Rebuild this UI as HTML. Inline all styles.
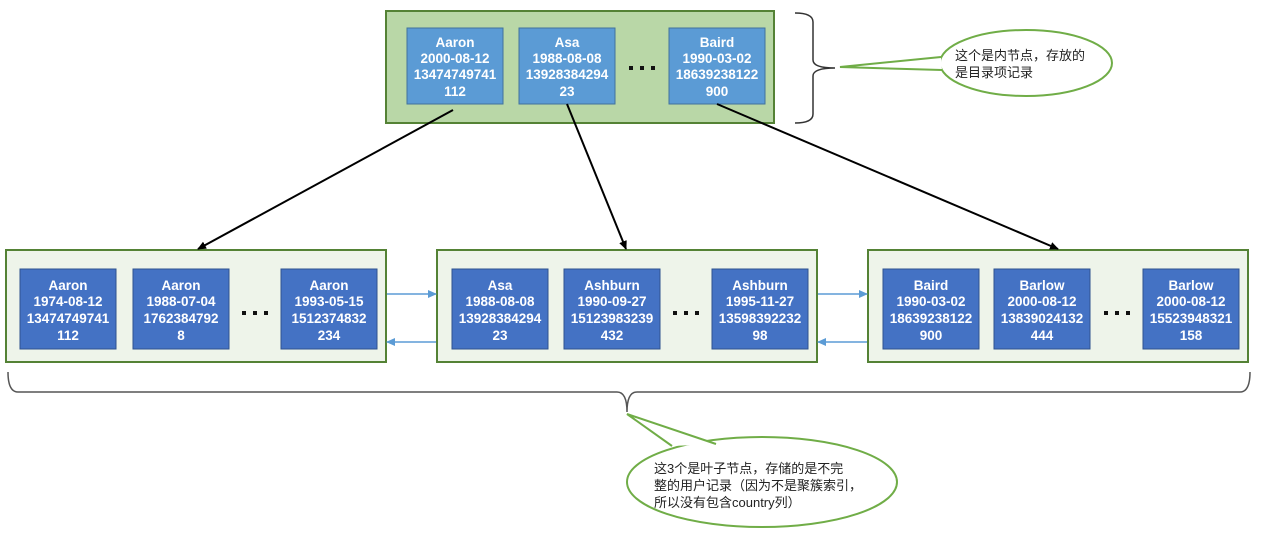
<!DOCTYPE html>
<html><head><meta charset="utf-8"><style>
html,body{margin:0;padding:0;background:#fff;width:1261px;height:539px;overflow:hidden}
svg{display:block}
.t{font-family:"Liberation Sans","Noto Sans CJK SC",sans-serif;font-size:13.5px;font-weight:bold;fill:#fff;text-anchor:middle}
.c{font-family:"Liberation Sans","Noto Sans CJK SC",sans-serif;font-size:13px;fill:#222}
</style></head><body>
<svg width="1261" height="539" viewBox="0 0 1261 539" xmlns="http://www.w3.org/2000/svg">
<defs>
<marker id="ab" markerWidth="10" markerHeight="10" refX="8" refY="4" orient="auto" markerUnits="userSpaceOnUse"><path d="M0,0 L9,4 L0,8 Z" fill="#000"/></marker>
<marker id="ae" markerWidth="10" markerHeight="10" refX="8" refY="4" orient="auto" markerUnits="userSpaceOnUse"><path d="M0,0 L9,4 L0,8 Z" fill="#5b9bd5"/></marker>
</defs>
<rect x="386" y="11" width="388" height="112" fill="#b9d7a7" stroke="#548235" stroke-width="2"/>
<g fill="#5b9bd5" stroke="#41719c" stroke-width="1">
<rect x="407" y="28" width="96" height="76"/><rect x="519" y="28" width="96" height="76"/><rect x="669" y="28" width="96" height="76"/>
</g>
<g class="t">
<text x="455" y="47">Aaron</text><text x="455" y="63">2000-08-12</text><text x="455" y="79">13474749741</text><text x="455" y="96">112</text>
<text x="567" y="47">Asa</text><text x="567" y="63">1988-08-08</text><text x="567" y="79">13928384294</text><text x="567" y="96">23</text>
<text x="717" y="47">Baird</text><text x="717" y="63">1990-03-02</text><text x="717" y="79">18639238122</text><text x="717" y="96">900</text>
</g>
<path d="M795,13 Q813,13 813,22 L813,60 Q813,68 835,68 Q813,68 813,76 L813,114 Q813,123 795,123" fill="none" stroke="#333" stroke-width="1.5"/>
<ellipse cx="1026" cy="63" rx="86" ry="33" fill="#fff" stroke="#70ad47" stroke-width="2"/>
<path d="M941,57 L840,67 L942,70" fill="#fff" stroke="#70ad47" stroke-width="2"/>
<text class="c" x="955" y="60">这个是内节点，存放的</text>
<text class="c" x="955" y="77">是目录项记录</text>
<g fill="#eef4ea" stroke="#548235" stroke-width="2">
<rect x="6" y="250" width="380" height="112"/><rect x="437" y="250" width="380" height="112"/><rect x="868" y="250" width="380" height="112"/>
</g>
<g fill="#111">
<rect x="629" y="66" width="4" height="4"/><rect x="640" y="66" width="4" height="4"/><rect x="651" y="66" width="4" height="4"/>
<rect x="242" y="311" width="4" height="4"/><rect x="253" y="311" width="4" height="4"/><rect x="264" y="311" width="4" height="4"/>
<rect x="673" y="311" width="4" height="4"/><rect x="684" y="311" width="4" height="4"/><rect x="695" y="311" width="4" height="4"/>
<rect x="1104" y="311" width="4" height="4"/><rect x="1115" y="311" width="4" height="4"/><rect x="1126" y="311" width="4" height="4"/>
</g>
<g fill="#4472c4" stroke="#2f528f" stroke-width="1">
<rect x="20" y="269" width="96" height="80"/><rect x="133" y="269" width="96" height="80"/><rect x="281" y="269" width="96" height="80"/>
<rect x="452" y="269" width="96" height="80"/><rect x="564" y="269" width="96" height="80"/><rect x="712" y="269" width="96" height="80"/>
<rect x="883" y="269" width="96" height="80"/><rect x="994" y="269" width="96" height="80"/><rect x="1143" y="269" width="96" height="80"/>
</g>
<g class="t">
<text x="68" y="290">Aaron</text><text x="68" y="306">1974-08-12</text><text x="68" y="323">13474749741</text><text x="68" y="340">112</text>
<text x="181" y="290">Aaron</text><text x="181" y="306">1988-07-04</text><text x="181" y="323">1762384792</text><text x="181" y="340">8</text>
<text x="329" y="290">Aaron</text><text x="329" y="306">1993-05-15</text><text x="329" y="323">1512374832</text><text x="329" y="340">234</text>
<text x="500" y="290">Asa</text><text x="500" y="306">1988-08-08</text><text x="500" y="323">13928384294</text><text x="500" y="340">23</text>
<text x="612" y="290">Ashburn</text><text x="612" y="306">1990-09-27</text><text x="612" y="323">15123983239</text><text x="612" y="340">432</text>
<text x="760" y="290">Ashburn</text><text x="760" y="306">1995-11-27</text><text x="760" y="323">13598392232</text><text x="760" y="340">98</text>
<text x="931" y="290">Baird</text><text x="931" y="306">1990-03-02</text><text x="931" y="323">18639238122</text><text x="931" y="340">900</text>
<text x="1042" y="290">Barlow</text><text x="1042" y="306">2000-08-12</text><text x="1042" y="323">13839024132</text><text x="1042" y="340">444</text>
<text x="1191" y="290">Barlow</text><text x="1191" y="306">2000-08-12</text><text x="1191" y="323">15523948321</text><text x="1191" y="340">158</text>
</g>
<g stroke="#000" stroke-width="2" marker-end="url(#ab)">
<line x1="453" y1="110" x2="198" y2="249"/>
<line x1="567" y1="104" x2="626" y2="249"/>
<line x1="717" y1="104" x2="1058" y2="249"/>
</g>
<g stroke="#5b9bd5" stroke-width="1.5" marker-end="url(#ae)">
<line x1="387" y1="294" x2="436" y2="294"/><line x1="436" y1="342" x2="387" y2="342"/>
<line x1="818" y1="294" x2="867" y2="294"/><line x1="867" y1="342" x2="818" y2="342"/>
</g>
<path d="M8,372 Q8,392 18,392 L617,392 Q627,392 627,412 Q627,392 637,392 L1240,392 Q1250,392 1250,372" fill="none" stroke="#555" stroke-width="1.5"/>
<ellipse cx="762" cy="482" rx="135" ry="45" fill="#fff" stroke="#70ad47" stroke-width="2"/>
<path d="M672,446 L627,414 L716,444" fill="#fff" stroke="#70ad47" stroke-width="2"/>
<text class="c" x="654" y="473">这3个是叶子节点，存储的是不完</text>
<text class="c" x="654" y="490">整的用户记录（因为不是聚簇索引，</text>
<text class="c" x="654" y="507">所以没有包含country列）</text>
</svg>
</body></html>
